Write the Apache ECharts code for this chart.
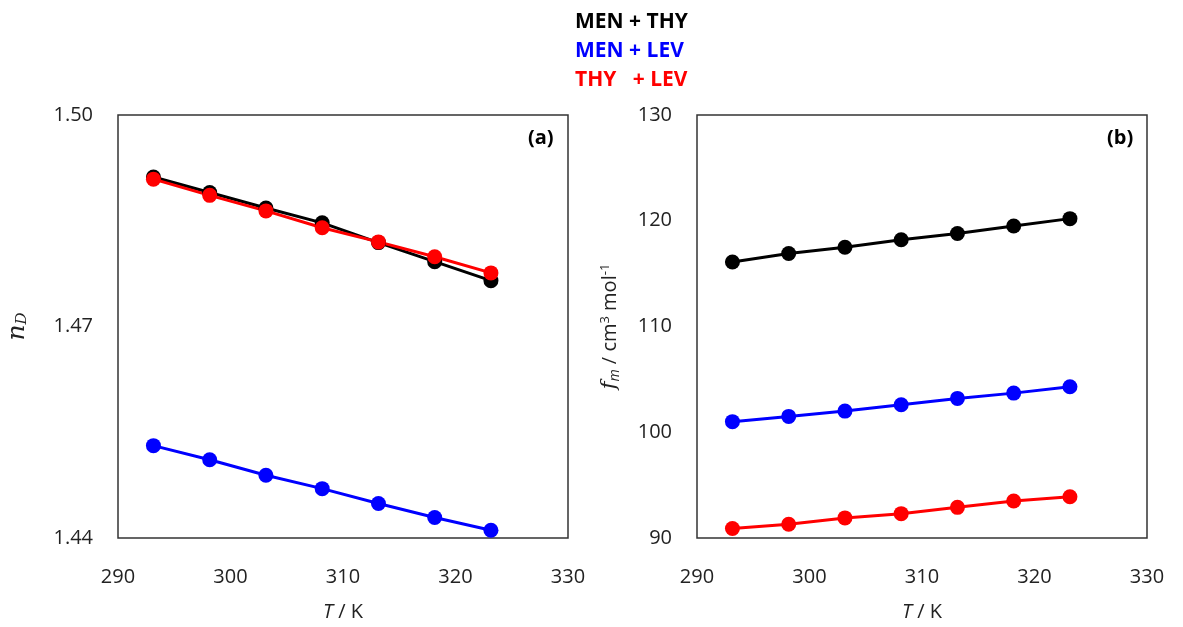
<!DOCTYPE html>
<html>
<head>
<meta charset="utf-8">
<script src="https://cdn.jsdelivr.net/npm/echarts@6/dist/echarts.min.js"></script>
<style>
  html, body { margin: 0; padding: 0; background: #fff; }
  #chart { width: 1183px; height: 627px; }
</style>
</head>
<body>
<div id="chart"></div>
<script>
// Temperatures (K)
const temperatures = [293.15, 298.15, 303.15, 308.15, 313.15, 318.15, 323.15];

// Series names
const seriesNames = ['MEN + THY', 'MEN + LEV', 'THY   + LEV'];
const seriesColors = ['#000000', '#0000ff', '#ff0000'];

// (a) refractive index n_D
const nD_MEN_THY = [1.4912, 1.4890, 1.4868, 1.4847, 1.4819, 1.4792, 1.4765];
const nD_MEN_LEV = [1.4531, 1.4511, 1.4489, 1.4470, 1.4449, 1.4429, 1.4411];
const nD_THY_LEV = [1.4909, 1.4886, 1.4864, 1.4840, 1.4820, 1.4799, 1.4776];

// (b) molar refraction f_m (cm3 mol-1)
const fm_MEN_THY = [116.1, 116.9, 117.5, 118.2, 118.8, 119.5, 120.2];
const fm_MEN_LEV = [101.0, 101.5, 102.0, 102.6, 103.2, 103.7, 104.3];
const fm_THY_LEV = [90.9, 91.3, 91.9, 92.3, 92.9, 93.5, 93.9];

// Axis ticks
const xTicks = { min: 290, max: 330, interval: 10 };
const yTicksA = { min: 1.44, max: 1.50, interval: 0.03 };
const yTicksB = { min: 90, max: 130, interval: 10 };

const FONT = "'Open Sans', 'Liberation Sans', sans-serif";

function pairs(xs, ys) { return xs.map((x, i) => [x, ys[i]]); }

function xAxisDef(gridIndex) {
  return {
    type: 'value', gridIndex,
    min: xTicks.min, max: xTicks.max, interval: xTicks.interval,
    axisLine: { show: false }, axisTick: { show: false }, splitLine: { show: false },
    axisLabel: { color: '#222', fontSize: 20, fontFamily: FONT, margin: 29 },
    name: '{i|T} / K', nameLocation: 'middle', nameGap: 64,
    nameTextStyle: {
      color: '#222', fontSize: 20, fontFamily: FONT,
      rich: { i: { fontStyle: 'italic', fontSize: 20, fontFamily: FONT, color: '#222' } }
    }
  };
}

function yAxisDef(gridIndex, t, name, rich, nameGap, fmt) {
  return {
    type: 'value', gridIndex,
    min: t.min, max: t.max, interval: t.interval,
    axisLine: { show: false }, axisTick: { show: false }, splitLine: { show: false },
    axisLabel: { color: '#222', fontSize: 20, fontFamily: FONT, margin: 25, formatter: fmt },
    name, nameLocation: 'middle', nameGap, nameRotate: 90,
    nameTextStyle: { color: '#222', fontSize: 20, fontFamily: FONT, rich }
  };
}

function lineSeries(name, color, xIdx, yIdx, values) {
  return {
    name, type: 'line', xAxisIndex: xIdx, yAxisIndex: yIdx,
    data: pairs(temperatures, values),
    symbol: 'circle', symbolSize: 15,
    itemStyle: { color },
    lineStyle: { color, width: 3 },
    z: 3
  };
}

const chart = echarts.init(document.getElementById('chart'), null, { renderer: 'canvas' });

chart.setOption({
  animation: false,
  backgroundColor: '#fff',
  legend: {
    orient: 'vertical', left: 565, top: 7,
    itemGap: 8, itemWidth: 0, itemHeight: 0,
    icon: 'none',
    selectedMode: false,
    data: seriesNames.map((n, i) => ({
      name: n, icon: 'none',
      textStyle: { color: seriesColors[i], fontWeight: 'bold', fontSize: 21, fontFamily: FONT, padding: 0 }
    })),
    textStyle: { fontWeight: 'bold', fontSize: 21, fontFamily: FONT }
  },
  grid: [
    { left: 118, top: 115, width: 450, height: 423, show: true, borderColor: '#333', borderWidth: 1.5, backgroundColor: 'transparent' },
    { left: 697, top: 115, width: 450, height: 423, show: true, borderColor: '#333', borderWidth: 1.5, backgroundColor: 'transparent' }
  ],
  xAxis: [xAxisDef(0), xAxisDef(1)],
  yAxis: [
    yAxisDef(0, yTicksA, '{i|n}{s|D}', {
      i: { fontStyle: 'italic', fontFamily: "'DejaVu Serif', serif", fontSize: 25, color: '#222' },
      s: { fontStyle: 'italic', fontFamily: "'DejaVu Serif', serif", fontSize: 15, color: '#222', padding: [10, 0, 0, 0] }
    }, 88, v => v.toFixed(2)),
    yAxisDef(1, yTicksB, '{i|f}{s|m} / cm{p|3} mol{p|-1}', {
      i: { fontStyle: 'italic', fontFamily: "'DejaVu Serif', serif", fontSize: 21, color: '#222' },
      s: { fontStyle: 'italic', fontFamily: FONT, fontSize: 14, color: '#222', padding: [10, 0, 0, 0] },
      p: { fontFamily: FONT, fontSize: 13, color: '#222', padding: [0, 0, 10, 0] }
    }, 75, v => String(v))
  ],
  graphic: [
    { type: 'text', left: 528, top: 128, style: { text: '(a)', fontSize: 20, fontWeight: 'bold', fontFamily: FONT, fill: '#000' } },
    { type: 'text', left: 1107, top: 128, style: { text: '(b)', fontSize: 20, fontWeight: 'bold', fontFamily: FONT, fill: '#000' } }
  ],
  series: [
    lineSeries(seriesNames[0], seriesColors[0], 0, 0, nD_MEN_THY),
    lineSeries(seriesNames[1], seriesColors[1], 0, 0, nD_MEN_LEV),
    lineSeries(seriesNames[2], seriesColors[2], 0, 0, nD_THY_LEV),
    lineSeries(seriesNames[0], seriesColors[0], 1, 1, fm_MEN_THY),
    lineSeries(seriesNames[1], seriesColors[1], 1, 1, fm_MEN_LEV),
    lineSeries(seriesNames[2], seriesColors[2], 1, 1, fm_THY_LEV)
  ]
});
</script>
</body>
</html>
